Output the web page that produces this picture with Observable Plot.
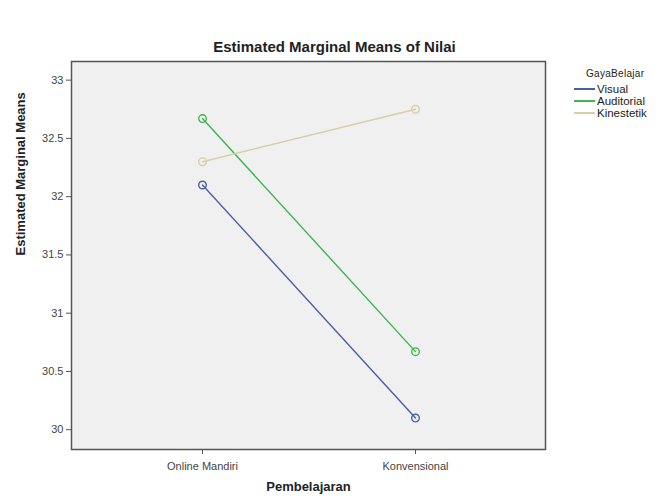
<!DOCTYPE html>
<html><head><meta charset="utf-8">
<script src="https://cdn.jsdelivr.net/npm/d3@7"></script>
<script src="https://cdn.jsdelivr.net/npm/@observablehq/plot@0.6"></script>
<style>
body{margin:0;background:#fff;font-family:"Liberation Sans",Arial,sans-serif;}
#wrap{position:relative;width:669px;height:500px;overflow:hidden;}
#title{position:absolute;left:0;top:38px;width:669px;text-align:center;font-weight:bold;font-size:15px;color:#222;}
#chart{position:absolute;left:0;top:55px;}
#legend{position:absolute;left:574px;top:68px;font-size:11.5px;color:#222;}
#legend .lt{font-size:10px;margin-left:12px;margin-bottom:3px;letter-spacing:0.3px;line-height:12px;}
#legend .it{display:flex;align-items:center;height:12px;line-height:12px;white-space:nowrap;}
#legend .sw{display:inline-block;width:21px;height:2px;margin-right:2px;}
</style></head><body>
<div id="wrap">
<div id="title">Estimated Marginal Means of Nilai</div>
<div id="chart"></div>
<div id="legend"></div>
</div>
<script>
const categories = ["Online Mandiri", "Konvensional"];
const groups = ["Visual", "Auditorial", "Kinestetik"];
const visual = [32.1, 30.1];
const auditorial = [32.67, 30.67];
const kinestetik = [32.3, 32.75];
const yTicks = [30, 30.5, 31, 31.5, 32, 32.5, 33];
const colors = ["#4A5FA8", "#3DB550", "#D6D0A6"];
const legendTitle = "GayaBelajar";
const xLabel = "Pembelajaran";
const yLabel = "Estimated Marginal Means";

const series = [visual, auditorial, kinestetik];
const data = [];
groups.forEach((g, i) => categories.forEach((c, j) => data.push({group: g, cat: c, value: series[i][j]})));

const plot = Plot.plot({
  width: 669, height: 445,
  marginLeft: 71, marginRight: 124, marginTop: 6, marginBottom: 51,
  style: {fontFamily: "Liberation Sans, Arial, sans-serif", fontSize: "11px", color: "#444", background: "transparent"},
  x: {type: "point", domain: categories, padding: 0.61, label: null},
  y: {domain: [29.83, 33.16], label: null},
  color: {domain: groups, range: colors},
  marks: [
    Plot.frame({fill: "#f0f0f0", stroke: "none"}),
    Plot.line(data, {x: "cat", y: "value", z: "group", stroke: "group", strokeWidth: 1.4}),
    Plot.dot(data, {x: "cat", y: "value", stroke: "group", r: 3.8, strokeWidth: 1.4, fill: "none"}),
    Plot.frame({stroke: "#555", strokeWidth: 1.5}),
    Plot.axisY({ticks: yTicks, tickFormat: d => String(d), tickSize: 5, tickPadding: 3, label: null, stroke: "#555"}),
    Plot.axisX({tickSize: 5, tickPadding: 8, label: null, stroke: "#555"}),
    Plot.text([yLabel], {text: d => d, frameAnchor: "left", dx: -51, rotate: -90, fontWeight: "bold", fontSize: 13, fill: "#222"}),
    Plot.text([xLabel], {text: d => d, frameAnchor: "bottom", dy: 41, fontWeight: "bold", fontSize: 13, fill: "#222"})
  ]
});
document.getElementById("chart").appendChild(plot);

const lg = document.getElementById("legend");
const t = document.createElement("div"); t.className = "lt"; t.textContent = legendTitle; lg.appendChild(t);
groups.forEach((g, i) => {
  const it = document.createElement("div"); it.className = "it";
  const sw = document.createElement("span"); sw.className = "sw"; sw.style.backgroundColor = colors[i];
  const tx = document.createElement("span"); tx.textContent = g;
  it.appendChild(sw); it.appendChild(tx); lg.appendChild(it);
});
</script>
</body></html>
